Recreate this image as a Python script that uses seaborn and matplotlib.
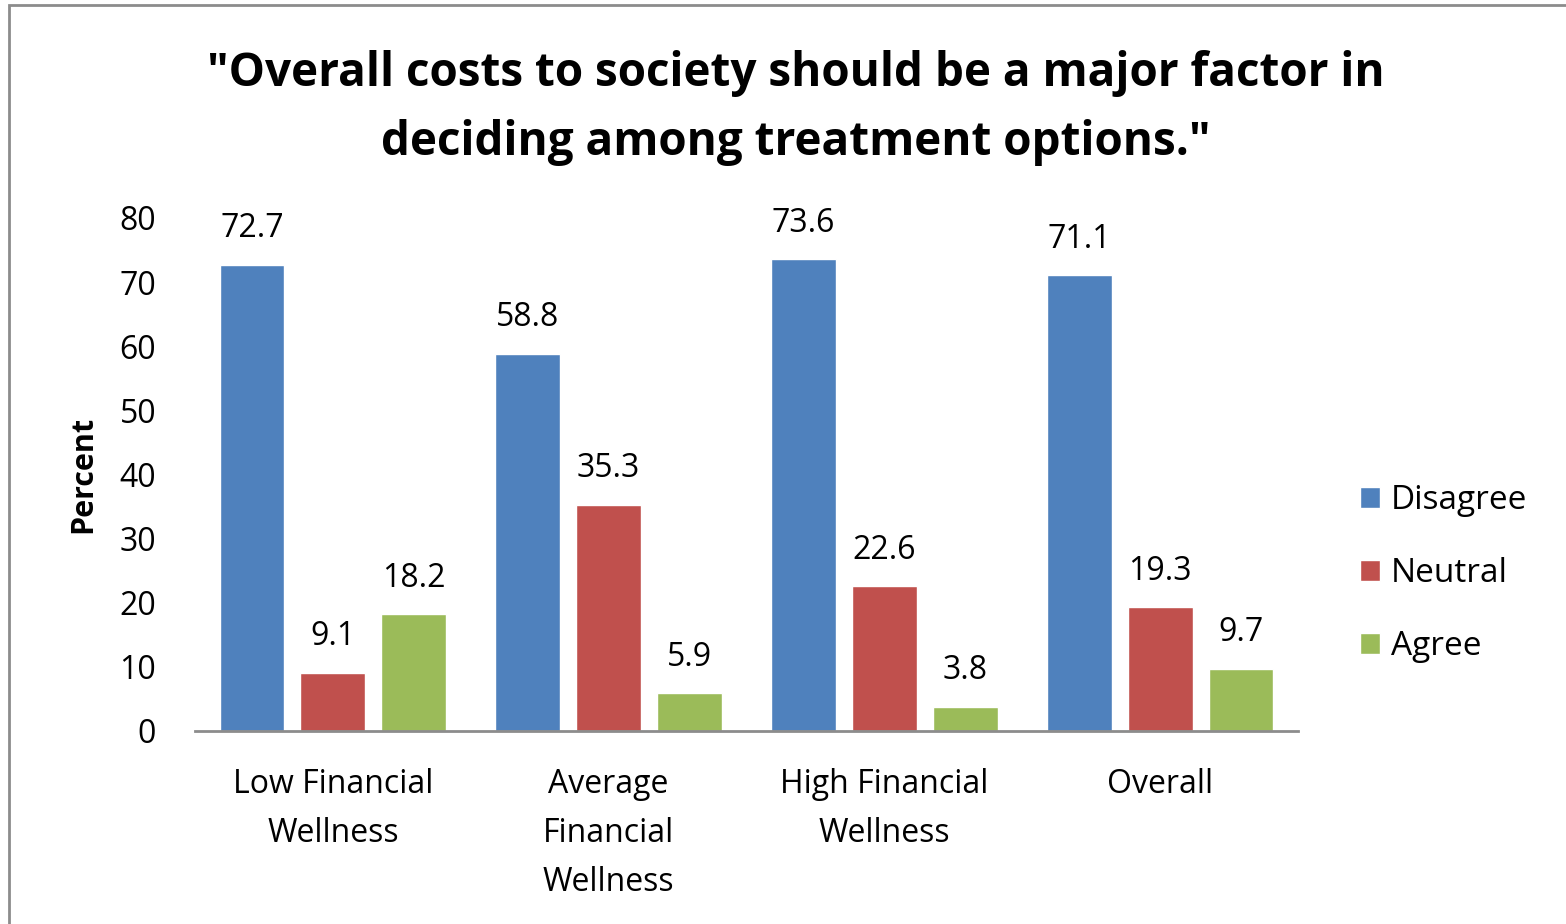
import pandas as pd
import matplotlib.pyplot as plt
import seaborn as sns
from matplotlib.patches import Rectangle

groups = ['Low Financial\nWellness', 'Average\nFinancial\nWellness',
          'High Financial\nWellness', 'Overall']
responses = ['Disagree', 'Neutral', 'Agree']
disagree = [72.7, 58.8, 73.6, 71.1]
neutral = [9.1, 35.3, 22.6, 19.3]
agree = [18.2, 5.9, 3.8, 9.7]
colors = ['#4F81BD', '#C0504D', '#9BBB59']

df = pd.DataFrame({
    'group': groups * 3,
    'response': [r for r in responses for _ in groups],
    'percent': disagree + neutral + agree,
})

sns.set_style('white')
plt.rcParams['font.family'] = ['Open Sans', 'DejaVu Sans']
plt.rcParams['text.color'] = 'black'
plt.rcParams['xtick.color'] = 'black'
plt.rcParams['ytick.color'] = 'black'
plt.rcParams['axes.labelcolor'] = 'black'

fig = plt.figure(figsize=(15.66, 9.24), dpi=100)
ax = fig.add_axes([0.1245, 0.2089, 0.7044, 0.5552])

sns.barplot(data=df, x='group', y='percent', hue='response', hue_order=responses,
            palette=colors, width=0.88, gap=0.2, ax=ax, saturation=1, errorbar=None)

for cont in ax.containers:
    ax.bar_label(cont, fmt='%.1f', padding=14, fontsize=23)

ax.set_ylim(0, 80)
ax.set_xlim(-0.5, 3.5)
ax.set_yticks(range(0, 81, 10))
ax.tick_params(axis='y', labelsize=23, pad=28, length=0)
ax.tick_params(axis='x', labelsize=23, pad=27, length=0)
for lab in ax.get_xticklabels():
    lab.set_linespacing(1.63)
    lab.set_verticalalignment('top')
ax.set_xlabel('')
ax.set_ylabel('Percent', fontsize=22, fontweight='bold')
ax.yaxis.set_label_coords(-0.088, 0.5)
for s in ['top', 'right', 'left']:
    ax.spines[s].set_visible(False)
ax.spines['bottom'].set_color('#8c8c8c')
ax.spines['bottom'].set_linewidth(2)

leg = ax.legend(loc='center left', bbox_to_anchor=(1.056, 0.306), frameon=False,
                fontsize=24, handlelength=0.6, handleheight=0.6, handletextpad=0.33,
                labelspacing=1.2, borderpad=0, borderaxespad=0)

fig.text(0.508, 0.883, '"Overall costs to society should be a major factor in\n'
         'deciding among treatment options."', ha='center', va='center',
         fontsize=33, fontweight='bold', linespacing=1.6)

fig.patches.append(Rectangle((9 / 1566, -0.1), 1.2, 1 - 5 / 924 + 0.1,
                             transform=fig.transFigure, fill=False,
                             edgecolor='#8c8c8c', linewidth=2))

fig.savefig('out.png', dpi=100)
